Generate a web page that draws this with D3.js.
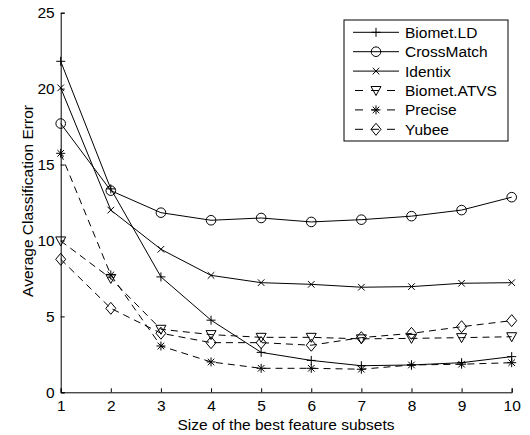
<!DOCTYPE html>
<html><head><meta charset="utf-8">
<script src="https://cdn.jsdelivr.net/npm/d3@7"></script>
<style>body{margin:0;background:#fff}svg{display:block}text{font-family:"Liberation Sans",Arial,sans-serif}</style>
</head><body>
<svg id="chart" width="530" height="435"></svg>
<script>
const xValues = [1,2,3,4,5,6,7,8,9,10];
const seriesNames = ["Biomet.LD","CrossMatch","Identix","Biomet.ATVS","Precise","Yubee"];
const biometLD   = [21.8,13.4,7.6,4.75,2.63,2.1,1.75,1.8,1.95,2.35];
const crossMatch = [17.7,13.28,11.83,11.33,11.48,11.22,11.37,11.6,12.0,12.85];
const identix    = [20.05,12.0,9.42,7.7,7.22,7.11,6.92,6.96,7.18,7.22];
const biometATVS = [9.97,7.5,4.15,3.8,3.62,3.62,3.52,3.55,3.6,3.66];
const precise    = [15.74,7.73,3.05,2.0,1.58,1.58,1.52,1.8,1.85,1.95];
const yubee      = [8.76,5.53,3.89,3.27,3.27,3.1,3.6,3.88,4.32,4.72];
const yTicks = [0,5,10,15,20,25];
const xTicks = [1,2,3,4,5,6,7,8,9,10];
const seriesValues = [biometLD, crossMatch, identix, biometATVS, precise, yubee];
const markers = ["plus","circle","cross","tri","star","diamond"];
const dashed = [false,false,false,true,true,true];
const FS = 15.5;

const svg = d3.select("#chart");
const x = d3.scaleLinear().domain([1,10]).range([60.7,511.7]);
const y = d3.scaleLinear().domain([0,25]).range([392.3,12.7]);

// axes
const xAxis = d3.axisBottom(x).tickValues(xTicks).tickSizeInner(-4).tickSizeOuter(-4).tickPadding(8).tickFormat(d3.format("d"));
const yAxis = d3.axisLeft(y).tickValues(yTicks).tickSizeInner(-4).tickSizeOuter(-4).tickPadding(6).tickFormat(d3.format("d"));
const gx = svg.append("g").attr("transform","translate(0,392.3)").call(xAxis);
const gy = svg.append("g").attr("transform","translate(60.7,0)").call(yAxis);
[gx,gy].forEach(g=>{
  g.selectAll("path,line").attr("stroke","#000").attr("stroke-width",1);
  g.selectAll("text").attr("font-size",FS).attr("fill","#000").attr("font-family","Liberation Sans, Arial, sans-serif");
});
gx.selectAll("text").attr("dy","0.71em");

svg.append("text").attr("x",286).attr("y",430).attr("text-anchor","middle").attr("font-size",FS).text("Size of the best feature subsets");
svg.append("text").attr("transform","translate(33,201) rotate(-90)").attr("text-anchor","middle").attr("font-size",FS).text("Average Classification Error");

function drawMarker(g, type, cx, cy){
  const s = 4.5;
  let el;
  if(type==="plus"){
    el = g.append("path").attr("d",`M${cx-s},${cy}H${cx+s}M${cx},${cy-s}V${cy+s}`);
  } else if(type==="circle"){
    el = g.append("circle").attr("cx",cx).attr("cy",cy).attr("r",4.8);
  } else if(type==="cross"){
    const k=3.3;
    el = g.append("path").attr("d",`M${cx-k},${cy-k}L${cx+k},${cy+k}M${cx-k},${cy+k}L${cx+k},${cy-k}`);
  } else if(type==="tri"){
    el = g.append("path").attr("d",`M${cx-5},${cy-4}L${cx+5},${cy-4}L${cx},${cy+5}Z`);
  } else if(type==="star"){
    const k=3.3;
    el = g.append("path").attr("d",`M${cx-s},${cy}H${cx+s}M${cx},${cy-s}V${cy+s}M${cx-k},${cy-k}L${cx+k},${cy+k}M${cx-k},${cy+k}L${cx+k},${cy-k}`);
  } else if(type==="diamond"){
    el = g.append("path").attr("d",`M${cx},${cy-6}L${cx+5},${cy}L${cx},${cy+6}L${cx-5},${cy}Z`);
  }
  el.attr("stroke","#000").attr("stroke-width",1).attr("fill","none");
}

const line = d3.line().x((d,i)=>x(xValues[i])).y(d=>y(d));
seriesValues.forEach((vals,si)=>{
  const g = svg.append("g");
  g.append("path").attr("d",line(vals)).attr("fill","none").attr("stroke","#000").attr("stroke-width",1)
    .attr("stroke-dasharray",dashed[si]?"7,5":null);
  vals.forEach((v,i)=>drawMarker(g,markers[si],x(xValues[i]),y(v)));
});

// legend
const lg = svg.append("g");
lg.append("rect").attr("x",344).attr("y",20).attr("width",164).attr("height",121).attr("fill","#fff").attr("stroke","#000").attr("stroke-width",1);
seriesNames.forEach((n,i)=>{
  const yy = 32.3 + i*19.4;
  lg.append("path").attr("d",`M353,${yy}H399`).attr("stroke","#000").attr("stroke-width",1).attr("fill","none")
    .attr("stroke-dasharray",dashed[i]?"8,8":null).attr("stroke-dashoffset",dashed[i]?-2:null);
  drawMarker(lg,markers[i],376,yy);
  lg.append("text").attr("x",405).attr("y",yy).attr("dy","0.35em").attr("font-size",FS).text(n);
});
</script>
</body></html>
